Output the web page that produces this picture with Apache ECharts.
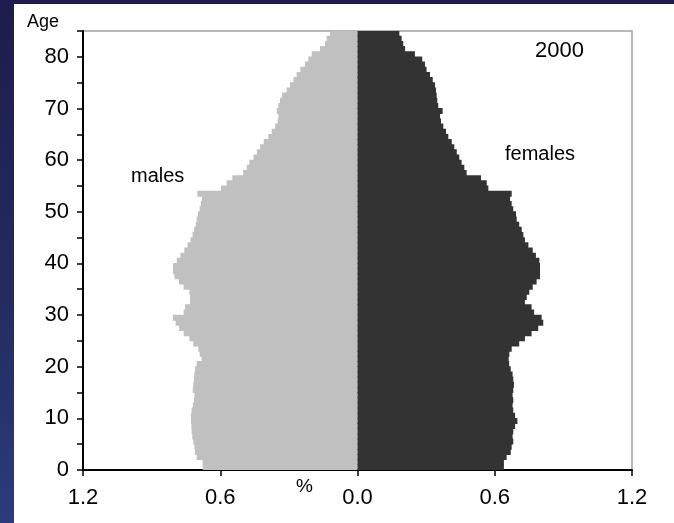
<!DOCTYPE html>
<html><head><meta charset="utf-8">
<script src="https://cdn.jsdelivr.net/npm/echarts@6/dist/echarts.min.js"></script>
<style>
html,body{margin:0;padding:0;}
body{width:674px;height:523px;overflow:hidden;position:relative;background:linear-gradient(180deg,#1d1c4c 0%,#232b5f 55%,#2b3b7c 100%);}
#panel{position:absolute;left:14px;top:4px;right:0;bottom:0;background:#fff;}
#chart{position:absolute;left:0;top:0;width:674px;height:523px;}
</style></head><body><div id="panel"></div><div id="chart"></div>
<script>
// Ages 0..84 (single years)
const ages = Array.from({length: 85}, (_, i) => String(i));
// Percent of population by single year of age, 2000
const males = [
  0.677,0.677,0.703,0.710,0.713,0.718,0.722,0.725,0.726,0.728,
  0.728,0.725,0.720,0.715,0.713,0.720,0.718,0.715,0.713,0.710,
  0.703,0.681,0.690,0.696,0.718,0.735,0.760,0.780,0.795,0.807,
  0.760,0.754,0.732,0.732,0.735,0.760,0.780,0.800,0.807,0.807,
  0.790,0.774,0.757,0.743,0.730,0.721,0.714,0.707,0.703,0.697,
  0.690,0.685,0.680,0.700,0.597,0.572,0.547,0.500,0.484,0.473,
  0.455,0.440,0.426,0.410,0.390,0.375,0.360,0.349,0.346,0.353,
  0.346,0.339,0.330,0.310,0.295,0.280,0.266,0.250,0.230,0.215,
  0.200,0.164,0.142,0.135,0.120
];
const females = [
  0.640,0.640,0.652,0.670,0.674,0.681,0.678,0.681,0.689,0.699,
  0.689,0.681,0.678,0.681,0.678,0.681,0.684,0.681,0.678,0.670,
  0.663,0.661,0.664,0.674,0.707,0.732,0.761,0.790,0.812,0.805,
  0.772,0.761,0.732,0.740,0.751,0.766,0.783,0.798,0.798,0.798,
  0.795,0.780,0.766,0.747,0.732,0.725,0.718,0.707,0.696,0.693,
  0.681,0.674,0.667,0.674,0.572,0.565,0.540,0.477,0.467,0.455,
  0.445,0.434,0.423,0.412,0.397,0.387,0.375,0.365,0.361,0.372,
  0.353,0.349,0.346,0.343,0.339,0.329,0.317,0.302,0.295,0.283,
  0.251,0.208,0.200,0.193,0.183
];
const xTicks = [-1.2, -0.6, 0, 0.6, 1.2];
const yLabels = [0, 10, 20, 30, 40, 50, 60, 70, 80];

const FONT = '"Liberation Sans Narrow","Liberation Sans",Arial,sans-serif';
const chart = echarts.init(document.getElementById('chart'), null, {renderer: 'canvas'});
chart.setOption({
  animation: false,
  backgroundColor: 'transparent',
  grid: {left: 83, right: 42, top: 31, bottom: 53, show: true, borderColor: '#a0a0a0', borderWidth: 1.5, backgroundColor: 'transparent'},
  xAxis: {
    type: 'value', min: xTicks[0], max: xTicks[xTicks.length - 1], interval: 0.6,
    axisLine: {show: true, onZero: false, lineStyle: {color: '#000', width: 2}},
    axisTick: {show: true, length: 6, lineStyle: {color: '#000', width: 1.5}},
    splitLine: {show: false},
    axisLabel: {color: '#000', fontSize: 22, fontFamily: FONT, margin: 17,
      formatter: v => Math.abs(v).toFixed(1)}
  },
  yAxis: [
    {type: 'category', data: ages, show: false, boundaryGap: true},
    {type: 'value', min: 0, max: 85, interval: 5, position: 'left',
      axisLine: {show: true, lineStyle: {color: '#000', width: 2}},
      axisTick: {show: true, length: 6, lineStyle: {color: '#000', width: 1.5}},
      splitLine: {show: false},
      axisLabel: {color: '#000', fontSize: 22, fontFamily: FONT, margin: 14,
        formatter: v => (yLabels.indexOf(v) >= 0 ? String(v) : '')}
    }
  ],
  series: [
    {type: 'bar', name: 'males', yAxisIndex: 0, stack: 'pyr', barWidth: 6,
      data: males.map(v => -v), silent: true,
      itemStyle: {color: '#c0c0c0'}},
    {type: 'bar', name: 'females', yAxisIndex: 0, stack: 'pyr', barWidth: 6,
      data: females, silent: true,
      itemStyle: {color: '#333333'}}
  ],
  graphic: [
    {type: 'text', left: 27, top: 13, style: {text: 'Age', fontSize: 18, fontFamily: FONT, fill: '#000'}},
    {type: 'text', left: 296, top: 477, style: {text: '%', fontSize: 19, fontFamily: FONT, fill: '#000'}},
    {type: 'text', left: 535, top: 40, style: {text: '2000', fontSize: 22, fontFamily: FONT, fill: '#000'}},
    {type: 'text', left: 131, top: 166, style: {text: 'males', fontSize: 20, fontFamily: FONT, fill: '#000'}},
    {type: 'text', left: 505, top: 144, style: {text: 'females', fontSize: 20, fontFamily: FONT, fill: '#000'}}
  ]
});
</script></body></html>
